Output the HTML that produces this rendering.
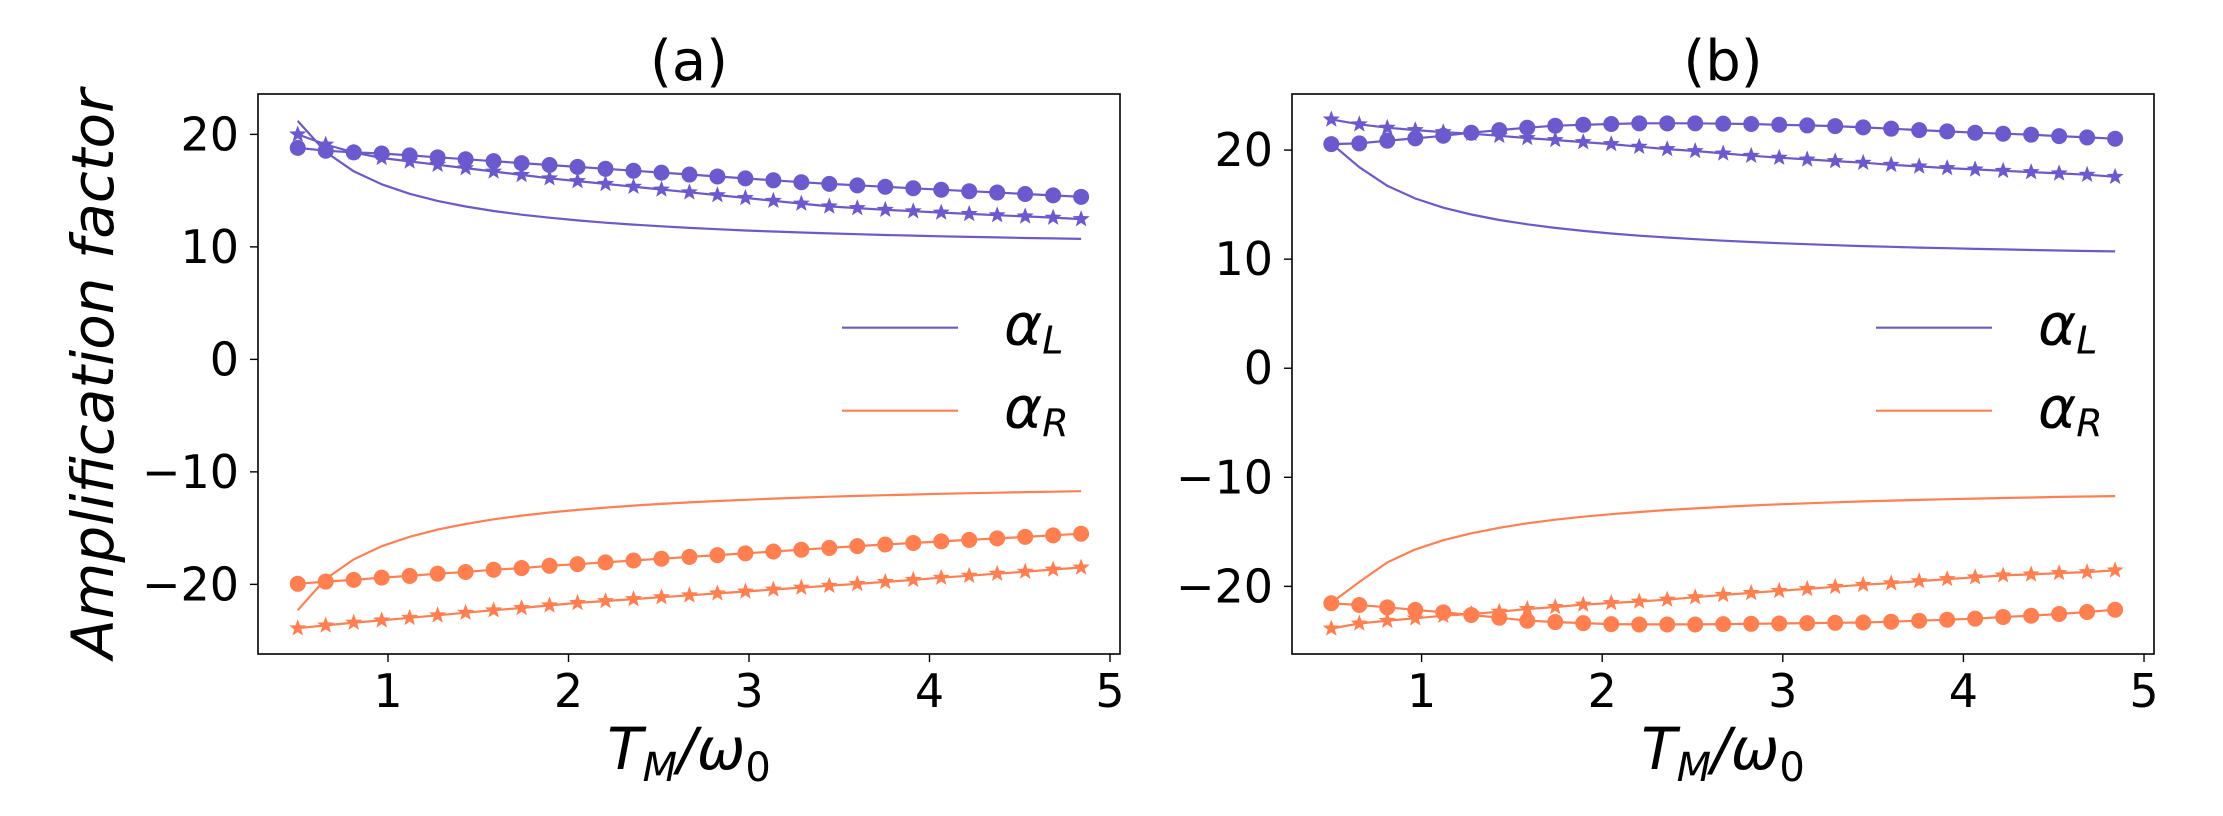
<!DOCTYPE html>
<html><head><meta charset="utf-8"><style>
html,body{margin:0;padding:0;background:#fff;}
svg{display:block;font-family:"DejaVu Sans","Liberation Sans",sans-serif;}
</style></head><body>
<svg id="fig" width="2223" height="816" viewBox="0 0 2223 816" xmlns="http://www.w3.org/2000/svg">
<rect width="2223" height="816" fill="#fff"/>
<text transform="translate(113,374) rotate(-90)" text-anchor="middle" font-size="58" font-style="italic">Amplification factor</text>
</svg>
<script>
const xs = [0.5,0.655,0.81,0.965,1.12,1.275,1.43,1.585,1.74,1.895,2.05,2.205,2.36,2.515,2.67,2.825,2.98,3.135,3.29,3.445,3.6,3.755,3.91,4.065,4.22,4.375,4.53,4.685,4.84];
const xTicks = [1,2,3,4,5];
const yTicks = [-20,-10,0,10,20];
// panel (a)
const aSolidL = [21.2,18.43,16.72,15.56,14.72,14.09,13.59,13.19,12.86,12.59,12.35,12.15,11.98,11.83,11.69,11.57,11.46,11.37,11.28,11.2,11.13,11.06,11.0,10.94,10.89,10.84,10.79,10.75,10.71];
const aSolidR = [-22.3,-19.51,-17.78,-16.61,-15.77,-15.13,-14.63,-14.22,-13.89,-13.61,-13.38,-13.18,-13.0,-12.85,-12.71,-12.59,-12.48,-12.38,-12.29,-12.21,-12.14,-12.07,-12.01,-11.95,-11.9,-11.85,-11.8,-11.76,-11.72];
const aCircleL = [18.8,18.55,18.4,18.3,18.13,17.96,17.79,17.62,17.45,17.28,17.11,16.94,16.77,16.6,16.43,16.26,16.09,15.92,15.75,15.6,15.47,15.34,15.21,15.08,14.95,14.83,14.7,14.58,14.45];
const aStarL = [20.0,19.1,18.4,17.9,17.6,17.3,17.0,16.7,16.4,16.1,15.85,15.6,15.35,15.1,14.85,14.6,14.35,14.1,13.85,13.6,13.45,13.3,13.17,13.05,12.93,12.82,12.71,12.6,12.47];
const aCircleR = [-19.95,-19.75,-19.6,-19.4,-19.25,-19.05,-18.9,-18.7,-18.55,-18.35,-18.2,-18.04,-17.88,-17.72,-17.56,-17.4,-17.24,-17.08,-16.92,-16.76,-16.6,-16.46,-16.32,-16.18,-16.05,-15.91,-15.78,-15.64,-15.5];
const aStarR = [-23.9,-23.65,-23.4,-23.2,-22.97,-22.75,-22.52,-22.3,-22.1,-21.87,-21.65,-21.48,-21.31,-21.14,-20.97,-20.8,-20.63,-20.46,-20.29,-20.12,-19.96,-19.78,-19.6,-19.41,-19.23,-19.05,-18.87,-18.68,-18.5];
// panel (b)
const bSolidL = [20.6,18.43,16.72,15.56,14.72,14.09,13.59,13.19,12.86,12.59,12.35,12.15,11.98,11.83,11.69,11.57,11.46,11.37,11.28,11.2,11.13,11.06,11.0,10.94,10.89,10.84,10.79,10.75,10.71];
const bSolidR = [-21.5,-19.6,-17.8,-16.61,-15.77,-15.13,-14.63,-14.22,-13.89,-13.61,-13.38,-13.18,-13.0,-12.85,-12.71,-12.59,-12.48,-12.38,-12.29,-12.21,-12.14,-12.07,-12.01,-11.95,-11.9,-11.85,-11.8,-11.76,-11.72];
const bCircleL = [20.55,20.61,20.86,21.07,21.31,21.59,21.83,22.05,22.23,22.32,22.39,22.45,22.45,22.45,22.42,22.39,22.32,22.26,22.2,22.08,21.96,21.83,21.71,21.59,21.5,21.41,21.28,21.16,21.04];
const bStarL = [22.81,22.36,22.05,21.83,21.65,21.5,21.31,21.1,20.92,20.73,20.55,20.31,20.09,19.91,19.69,19.48,19.3,19.14,18.99,18.84,18.65,18.5,18.35,18.23,18.1,17.98,17.86,17.74,17.55];
const bCircleR = [-21.55,-21.71,-21.92,-22.16,-22.38,-22.62,-22.87,-23.15,-23.27,-23.37,-23.46,-23.49,-23.49,-23.49,-23.46,-23.43,-23.4,-23.37,-23.34,-23.31,-23.24,-23.15,-23.06,-22.96,-22.81,-22.69,-22.53,-22.35,-22.14];
const bStarR = [-23.86,-23.4,-23.15,-22.93,-22.69,-22.53,-22.32,-22.07,-21.89,-21.67,-21.52,-21.39,-21.21,-20.99,-20.78,-20.6,-20.41,-20.23,-20.04,-19.85,-19.71,-19.52,-19.33,-19.17,-18.99,-18.9,-18.78,-18.69,-18.53];

const NS = "http://www.w3.org/2000/svg";
const svg = document.getElementById('fig');
const PURPLE = "#6a5acd", ORANGE = "#ff7f50";
function mk(tag, attrs, parent){ const e=document.createElementNS(NS,tag); for(const k in attrs) e.setAttribute(k,attrs[k]); (parent||svg).appendChild(e); return e; }

function starPath(cx,cy,R){
  const r=R*0.42; let d="";
  for(let i=0;i<10;i++){ const a=-Math.PI/2+i*Math.PI/5; const rr=i%2?r:R; d+=(i?"L":"M")+(cx+rr*Math.cos(a)).toFixed(1)+","+(cy+rr*Math.sin(a)).toFixed(1); }
  return d+"Z";
}

function panel(name, L, T, W, H, xmin, xmax, ymin, ymax, title, series){
  const g = mk('g',{});
  
  
  const sx = v => L + (v-xmin)/(xmax-xmin)*W;
  const sy = v => T + (ymax-v)/(ymax-ymin)*H;
  series.forEach(s=>{
    const sg = mk('g',{},g);
    
    
    const pts = xs.map((x,i)=>sx(x).toFixed(1)+","+sy(s.v[i]).toFixed(1)).join(" ");
    mk('polyline',{points:pts,fill:'none',stroke:s.c,'stroke-width':2.2,'stroke-linejoin':'round'},sg);
    if(s.m){
      xs.forEach((x,i)=>{
        let m;
        if(s.m==='o') m = mk('ellipse',{cx:sx(x),cy:sy(s.v[i]),rx:8,ry:8,fill:s.c},sg);
        else m = mk('path',{d:starPath(sx(x),sy(s.v[i]),9),fill:s.c},sg);
        
        
      });
    }
  });
  const frame = mk('rect',{x:L,y:T,width:W,height:H,fill:'none',stroke:'#000','stroke-width':1.6},g);
  
  
  xTicks.forEach(t=>{
    const x=sx(t);
    mk('line',{x1:x,x2:x,y1:T+H,y2:T+H+8,stroke:'#000','stroke-width':1.4},g);
    const tx = mk('text',{x:x,y:T+H+53,'text-anchor':'middle','font-size':46},g);
    tx.textContent = String(t);
    
    
  });
  yTicks.forEach(t=>{
    const y=sy(t);
    mk('line',{x1:L-8,x2:L,y1:y,y2:y,stroke:'#000','stroke-width':1.4},g);
    const tx = mk('text',{x:L-19,y:y+16,'text-anchor':'end','font-size':46},g);
    tx.textContent = t<0 ? "\u2212"+Math.abs(t) : String(t);
    
    
  });
  const tt = mk('text',{x:L+W/2,y:80,'text-anchor':'middle','font-size':56},g);
  tt.textContent = title;
  
  
  const xl = mk('text',{x:L+W/2,y:769,'text-anchor':'middle','font-size':58,'font-style':'italic'},g);
  xl.innerHTML = 'T<tspan font-size="40" dy="12">M</tspan><tspan dy="-12">/ω</tspan><tspan font-size="40" dy="12" font-style="normal">0</tspan>';
  
  
  const lg = mk('g',{},g);
  
  
  [['L',PURPLE,327.7],['R',ORANGE,410.7]].forEach(([s,c,y])=>{
    const e = mk('g',{},lg);
    
    
    mk('line',{x1:L+584,x2:L+700,y1:y,y2:y,stroke:c,'stroke-width':2.2},e);
    const t = mk('text',{x:L+746,y:y+17,'font-size':58,'font-style':'italic'},e);
    t.innerHTML = 'α<tspan font-size="38" dy="9">'+s+'</tspan>';
  });
}

panel('a', 258, 94, 862, 560, 0.2798, 5.0554, -26.19, 23.59, '(a)', [
  {name:'alpha-L-solid-a', v:aSolidL, c:PURPLE},
  {name:'alpha-R-solid-a', v:aSolidR, c:ORANGE},
  {name:'alpha-L-circle-a', v:aCircleL, c:PURPLE, m:'o'},
  {name:'alpha-L-star-a', v:aStarL, c:PURPLE, m:'*'},
  {name:'alpha-R-circle-a', v:aCircleR, c:ORANGE, m:'o'},
  {name:'alpha-R-star-a', v:aStarR, c:ORANGE, m:'*'}
]);
panel('b', 1292, 94, 862, 560, 0.2824, 5.0553, -26.2, 25.14, '(b)', [
  {name:'alpha-L-solid-b', v:bSolidL, c:PURPLE},
  {name:'alpha-R-solid-b', v:bSolidR, c:ORANGE},
  {name:'alpha-L-circle-b', v:bCircleL, c:PURPLE, m:'o'},
  {name:'alpha-L-star-b', v:bStarL, c:PURPLE, m:'*'},
  {name:'alpha-R-circle-b', v:bCircleR, c:ORANGE, m:'o'},
  {name:'alpha-R-star-b', v:bStarR, c:ORANGE, m:'*'}
]);
</script>
</body></html>
